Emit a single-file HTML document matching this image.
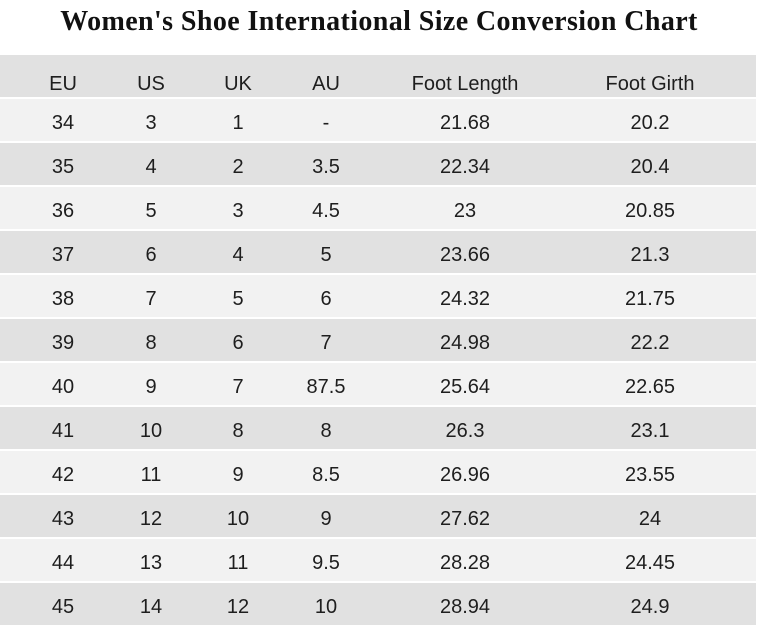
<!DOCTYPE html>
<html><head><style>
body{margin:0;width:758px;height:629px;background:#fff;overflow:hidden;font-family:"Liberation Sans",sans-serif;}
.t{position:absolute;top:6px;left:0;width:758px;text-align:center;font-family:"Liberation Serif",serif;font-weight:bold;font-size:28px;letter-spacing:0.4px;color:#111;}
.r{position:absolute;left:0;width:756px;height:42px;border-bottom:2px solid #fff;}
.r span{position:absolute;top:3px;line-height:42px;font-size:20px;color:#1e1e1e;transform:translateX(-50%);white-space:nowrap;}
.r.h span{top:8px;}
</style></head><body>
<div class="t">Women's Shoe International Size Conversion Chart</div>
<div id="tb"></div>
<script>
var rows=[["EU","US","UK","AU","Foot Length","Foot Girth"],
["34","3","1","-","21.68","20.2"],["35","4","2","3.5","22.34","20.4"],["36","5","3","4.5","23","20.85"],
["37","6","4","5","23.66","21.3"],["38","7","5","6","24.32","21.75"],["39","8","6","7","24.98","22.2"],
["40","9","7","87.5","25.64","22.65"],["41","10","8","8","26.3","23.1"],["42","11","9","8.5","26.96","23.55"],
["43","12","10","9","27.62","24"],["44","13","11","9.5","28.28","24.45"],["45","14","12","10","28.94","24.9"]];
var xs=[63,151,238,326,465,650],h="";
rows.forEach(function(r,i){h+='<div class="r'+(i?'':' h')+'" style="top:'+(55+i*44)+'px;background:'+(i%2?'#f2f2f2':'#e1e1e1')+'">';
r.forEach(function(c,j){h+='<span style="left:'+xs[j]+'px">'+c+'</span>';});h+='</div>';});
document.getElementById('tb').innerHTML=h;
</script>
</body></html>
